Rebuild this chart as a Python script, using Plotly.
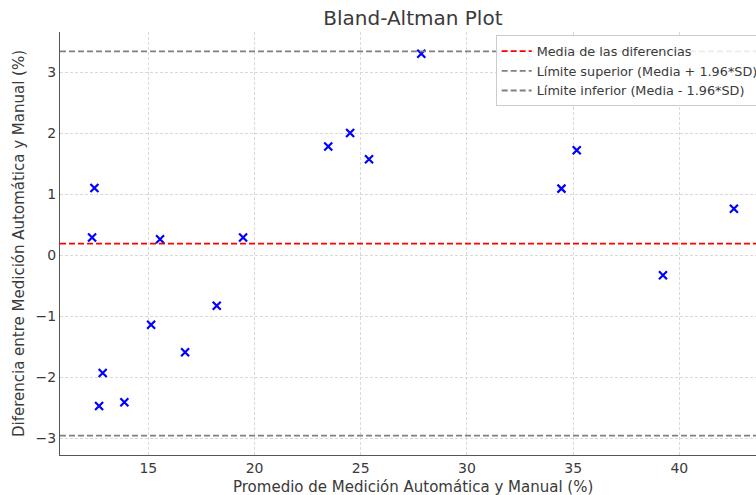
import plotly.graph_objects as go

# Data
avg_values = [12.46, 12.35, 15.55, 19.46, 23.47, 24.50, 25.39, 27.85, 35.17, 34.45,
              42.57, 39.23, 12.68, 12.85, 13.87, 15.13, 16.73, 18.22]
diff_values = [1.10, 0.29, 0.26, 0.29, 1.78, 2.00, 1.57, 3.30, 1.72, 1.09,
               0.76, -0.33, -2.47, -1.93, -2.41, -1.14, -1.59, -0.83]
mean_diff = 0.19
upper_limit = 3.34
lower_limit = -2.955

x_range = [10.84, 43.61]
y_range = [-3.274, 3.656]
x_ticks = [15, 20, 25, 30, 35, 40]
y_ticks = [-3, -2, -1, 0, 1, 2, 3]

FONT = "DejaVu Sans"
TXT = "#3a3a3a"

fig = go.Figure()
fig.add_trace(go.Scatter(
    x=avg_values, y=diff_values, mode="markers", showlegend=False,
    marker=dict(symbol="x-thin", size=8, color="blue",
                line=dict(color="blue", width=2.2)),
))

fig.add_hline(y=mean_diff, line=dict(color="red", width=1.8, dash="6px,3px"),
              showlegend=True, name="Media de las diferencias")
fig.add_hline(y=upper_limit, line=dict(color="#808080", width=1.8, dash="6px,3px"),
              showlegend=True, name="Límite superior (Media + 1.96*SD)")
fig.add_hline(y=lower_limit, line=dict(color="#808080", width=1.8, dash="6px,3px"),
              showlegend=True, name="Límite inferior (Media - 1.96*SD)")

axis_common = dict(
    showgrid=True, gridcolor="#d9d9d9", griddash="3px,2px", gridwidth=0.8,
    showline=True, linecolor="#555555", linewidth=1.3, mirror=False,
    zeroline=False, ticks="", automargin=False,
    tickfont=dict(family=FONT, size=14, color=TXT),
)

fig.update_xaxes(range=x_range, tickvals=x_ticks, **axis_common)
fig.update_yaxes(range=y_range, tickvals=y_ticks,
                 title=dict(text="Diferencia entre Medición Automática y Manual (%)",
                            font=dict(family=FONT, size=15, color=TXT), standoff=7),
                 **axis_common)

fig.add_annotation(text="Promedio de Medición Automática y Manual (%)",
                   xref="paper", yref="paper", x=0.507, y=-0.0757,
                   xanchor="center", yanchor="middle", showarrow=False,
                   font=dict(family=FONT, size=15, color=TXT))

fig.update_layout(
    width=756, height=495,
    margin=dict(l=60, r=0, t=32, b=40, autoexpand=False),
    paper_bgcolor="white", plot_bgcolor="white",
    title=dict(text="Bland-Altman Plot", xref="paper", x=0.507, xanchor="center",
               yref="container", y=0.964, yanchor="middle", automargin=False,
               font=dict(family=FONT, size=20, color=TXT)),
    legend=dict(x=0.626, y=0.992, xanchor="left", yanchor="top",
                bgcolor="rgba(255,255,255,0.85)", bordercolor="#cccccc", borderwidth=1,
                font=dict(family=FONT, size=12.8, color=TXT),
                itemwidth=30, tracegroupgap=0),
    showlegend=True,
)

fig.write_html("out.html", config={"displayModeBar": False},
               post_script="document.body.style.margin='0';document.body.style.overflow='hidden';")
